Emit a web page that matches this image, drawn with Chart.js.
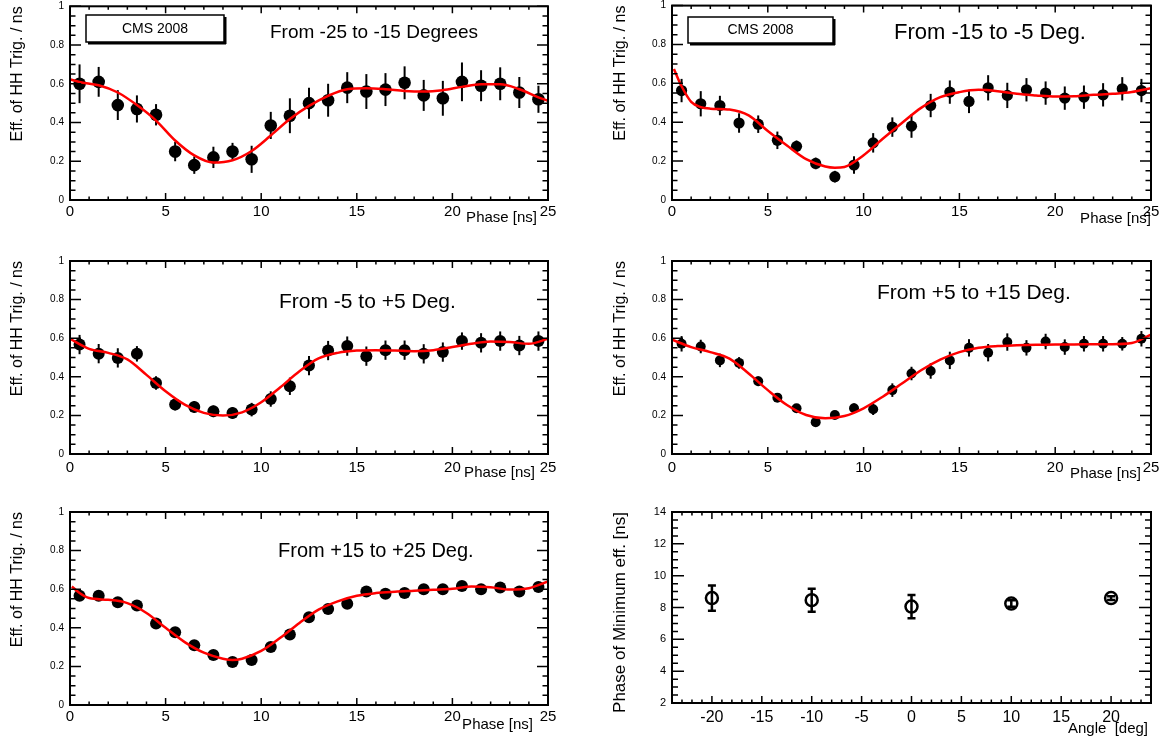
<!DOCTYPE html>
<html>
<head>
<meta charset="utf-8">
<script src="https://cdn.jsdelivr.net/npm/chart.js@4.4.1/dist/chart.umd.min.js"></script>
<style>
html,body{margin:0;padding:0;background:#fff;width:1163px;height:738px;overflow:hidden;position:relative}
canvas{position:absolute}
</style>
</head>
<body>
<canvas id="p1"></canvas>
<canvas id="p2"></canvas>
<canvas id="p3"></canvas>
<canvas id="p4"></canvas>
<canvas id="p5"></canvas>
<canvas id="p6"></canvas>
<script>
const FONT = "'Liberation Sans', Arial, Helvetica, sans-serif";

// ---- shared axes ----
const phase = [0.5,1.5,2.5,3.5,4.5,5.5,6.5,7.5,8.5,9.5,10.5,11.5,12.5,13.5,14.5,15.5,16.5,17.5,18.5,19.5,20.5,21.5,22.5,23.5,24.5];
const xTicksPhase = [0,5,10,15,20,25];
const xLabelsPhase = ['0','5','10','15','20','25'];
const yTicksEff = [0,0.2,0.4,0.6,0.8,1];
const yLabelsEff = ['0','0.2','0.4','0.6','0.8','1'];

// ---- From -25 to -15 Degrees ----
const effA = [0.60,0.61,0.49,0.47,0.44,0.25,0.18,0.22,0.25,0.21,0.385,0.435,0.50,0.515,0.58,0.56,0.57,0.605,0.54,0.525,0.61,0.59,0.60,0.555,0.52];
const errA = [0.10,0.077,0.077,0.07,0.055,0.05,0.045,0.055,0.045,0.07,0.07,0.09,0.08,0.085,0.08,0.09,0.085,0.085,0.08,0.09,0.10,0.08,0.085,0.08,0.07];
const fitXA = [0,0.5,1.5,2.5,3.5,4.5,5.5,6.5,7.5,8.5,9.5,10.5,11.5,12.5,13.5,14.5,15.5,16.5,17.5,18.5,19.5,20.5,21.5,22.5,23.5,24.5,25];
const fitYA = [0.623,0.609,0.592,0.555,0.49,0.41,0.307,0.23,0.193,0.205,0.253,0.333,0.418,0.486,0.538,0.572,0.577,0.572,0.563,0.56,0.567,0.584,0.597,0.597,0.572,0.53,0.512];

// ---- From -15 to -5 Deg. ----
const effB = [0.563,0.495,0.486,0.396,0.39,0.307,0.276,0.188,0.12,0.18,0.294,0.375,0.38,0.486,0.555,0.507,0.577,0.538,0.567,0.55,0.524,0.529,0.541,0.572,0.563];
const errB = [0.06,0.065,0.05,0.05,0.045,0.045,0.03,0.03,0.03,0.045,0.05,0.05,0.06,0.06,0.06,0.06,0.065,0.065,0.06,0.06,0.06,0.06,0.06,0.06,0.06];
const fitXB = [0.1,0.5,1,1.5,2,3,4,5,6,7,8,8.5,9,10,11,12,13,14,15,16,17,18,19,20,21,22,23,24,25];
const fitYB = [0.674,0.585,0.505,0.478,0.47,0.465,0.435,0.355,0.28,0.21,0.172,0.166,0.17,0.23,0.315,0.396,0.474,0.529,0.555,0.567,0.56,0.546,0.538,0.532,0.534,0.541,0.546,0.555,0.575];

// ---- From -5 to +5 Deg. ----
const effC = [0.567,0.52,0.498,0.519,0.368,0.256,0.244,0.221,0.213,0.23,0.285,0.351,0.458,0.536,0.559,0.507,0.538,0.538,0.519,0.528,0.585,0.576,0.585,0.562,0.585];
const errC = [0.05,0.05,0.05,0.04,0.035,0.03,0.03,0.03,0.03,0.035,0.04,0.045,0.05,0.05,0.05,0.05,0.05,0.05,0.05,0.05,0.045,0.05,0.05,0.05,0.05];
const fitXC = [0,1,2,3,4,5,6,7,8,9,10,11,12,13,14,15,16,17,18,19,20,21,22,23,24,25];
const fitYC = [0.597,0.545,0.524,0.49,0.41,0.325,0.256,0.213,0.199,0.216,0.268,0.346,0.429,0.495,0.524,0.536,0.538,0.536,0.533,0.538,0.554,0.571,0.583,0.58,0.571,0.597];

// ---- From +5 to +15 Deg. ----
const effD = [0.571,0.557,0.485,0.472,0.377,0.292,0.237,0.165,0.202,0.237,0.232,0.331,0.417,0.43,0.485,0.55,0.525,0.58,0.55,0.583,0.554,0.571,0.571,0.571,0.597];
const errD = [0.04,0.035,0.035,0.03,0.025,0.02,0.02,0.02,0.02,0.025,0.03,0.035,0.035,0.04,0.045,0.045,0.045,0.045,0.04,0.04,0.04,0.04,0.04,0.035,0.04];
const fitXD = [0,1,2,3,4,5,6,7,8,9,10,11,12,13,14,15,16,17,18,19,20,21,22,23,24,25];
const fitYD = [0.592,0.554,0.528,0.494,0.417,0.331,0.254,0.202,0.185,0.197,0.237,0.297,0.365,0.434,0.489,0.528,0.55,0.559,0.563,0.566,0.568,0.568,0.569,0.569,0.575,0.619];

// ---- From +15 to +25 Deg. ----
const effE = [0.566,0.566,0.532,0.515,0.422,0.377,0.31,0.259,0.223,0.233,0.30,0.365,0.455,0.497,0.525,0.588,0.576,0.58,0.60,0.60,0.617,0.60,0.609,0.588,0.611];
const errE = [0.02,0.018,0.018,0.018,0.018,0.018,0.018,0.018,0.018,0.018,0.018,0.018,0.018,0.018,0.018,0.018,0.018,0.018,0.018,0.018,0.018,0.018,0.018,0.018,0.02];
const fitXE = [0.1,0.5,1,2,3,4,5,6,7,8,8.5,9,10,11,12,13,14,15,16,17,18,19,20,21,22,23,24,25];
const fitYE = [0.614,0.58,0.554,0.545,0.528,0.477,0.40,0.326,0.271,0.24,0.233,0.24,0.28,0.348,0.425,0.494,0.537,0.566,0.58,0.587,0.592,0.597,0.602,0.614,0.61,0.598,0.605,0.64];

// ---- Phase of minimum vs angle ----
const angle = [-20,-10,0,10,20];
const phaseMin = [8.59,8.46,8.06,8.25,8.59];
const phaseMinErr = [0.79,0.72,0.73,0.2,0.12];
const xTicksAngle = [-20,-15,-10,-5,0,5,10,15,20];
const xLabelsAngle = ['-20','-15','-10','-5','0','5','10','15','20'];
const yTicksMin = [2,4,6,8,10,12,14];
const yLabelsMin = ['2','4','6','8','10','12','14'];

const effAxis = {xmin:0,xmax:25,xTicks:xTicksPhase,xLabels:xLabelsPhase,xMinor:1,ymin:0,ymax:1,yTicks:yTicksEff,yLabels:yLabelsEff,yMinor:0.05,
  xFont:15,yFont:10,yTitle:'Eff. of HH Trig. / ns',yTitleSize:16,xTitle:'Phase [ns]',xTitleSize:15,
  yMaj:11,yMin:5.5,xMaj:7,xMin:3.5,errW:2,cap:0,open:false,xPad:3};

const panels = [
  Object.assign({}, effAxis, {id:'p1',left:0,top:0,w:581,h:248,area:{l:70,t:5,r:548,b:200},
    xs:phase,ys:effA,err:errA,fx:fitXA,fy:fitYA,r:6.3,yTitlePad:8,xTitleRight:537,xTitleY:218,
    title:'From -25 to -15 Degrees',titleX:270,titleY:33,titleSize:19,cms:{x1:86,y1:15,x2:224,y2:42}}),
  Object.assign({}, effAxis, {id:'p2',left:581,top:0,w:582,h:248,area:{l:672,t:5,r:1151,b:200},
    xs:phase,ys:effB,err:errB,fx:fitXB,fy:fitYB,r:5.6,yTitlePad:30,xTitleRight:1151,xTitleY:219,
    title:'From -15 to -5 Deg.',titleX:894,titleY:33,titleSize:22,cms:{x1:688,y1:17,x2:833,y2:43}}),
  Object.assign({}, effAxis, {id:'p3',left:0,top:248,w:581,h:247,area:{l:70,t:261,r:548,b:454},
    xs:phase,ys:effC,err:errC,fx:fitXC,fy:fitYC,r:6,yTitlePad:8,xTitleRight:535,xTitleY:473,xPad:5,
    title:'From -5 to +5 Deg.',titleX:279,titleY:302,titleSize:21}),
  Object.assign({}, effAxis, {id:'p4',left:581,top:248,w:582,h:247,area:{l:672,t:261,r:1151,b:454},
    xs:phase,ys:effD,err:errD,fx:fitXD,fy:fitYD,r:5,yTitlePad:30,xTitleRight:1141,xTitleY:474,xPad:5,
    title:'From +5 to +15 Deg.',titleX:877,titleY:293,titleSize:21}),
  Object.assign({}, effAxis, {id:'p5',left:0,top:495,w:581,h:243,area:{l:70,t:512,r:548,b:705},
    xs:phase,ys:effE,err:errE,fx:fitXE,fy:fitYE,r:6,yTitlePad:8,xTitleRight:533,xTitleY:725,
    title:'From +15 to +25 Deg.',titleX:278,titleY:551,titleSize:20}),
  {id:'p6',left:581,top:495,w:582,h:243,area:{l:672,t:512,r:1151,b:703},
    xs:angle,ys:phaseMin,err:phaseMinErr,r:6,open:true,cap:4,errW:2.5,
    xmin:-24,xmax:24,xTicks:xTicksAngle,xLabels:xLabelsAngle,xMinor:1,
    ymin:2,ymax:14,yTicks:yTicksMin,yLabels:yLabelsMin,yMinor:0.5,
    xFont:16,yFont:11,yTitle:'Phase of Minimum eff. [ns]',yTitleSize:17,yTitlePad:29,
    xTitle:'Angle  [deg]',xTitleSize:15,xTitleRight:1148,xTitleY:729,xPad:5,
    yMaj:12,yMin:6,xMaj:7,xMin:3.5}
];

function decor(p) {
  const near = (v, arr) => arr.some(t => Math.abs(t - v) < 1e-6);
  return {
    id: 'decor_' + p.id,
    beforeDatasetsDraw(chart) {
      const ctx = chart.ctx, xs = chart.scales.x, ys = chart.scales.y;
      ctx.save();
      ctx.strokeStyle = '#000';
      ctx.lineWidth = p.errW;
      p.xs.forEach((xv, i) => {
        const px = xs.getPixelForValue(xv);
        const y1 = ys.getPixelForValue(p.ys[i] - p.err[i]);
        const y2 = ys.getPixelForValue(p.ys[i] + p.err[i]);
        ctx.beginPath(); ctx.moveTo(px, y1); ctx.lineTo(px, y2); ctx.stroke();
        if (p.cap) {
          ctx.beginPath();
          ctx.moveTo(px - p.cap, y1); ctx.lineTo(px + p.cap, y1);
          ctx.moveTo(px - p.cap, y2); ctx.lineTo(px + p.cap, y2);
          ctx.stroke();
        }
      });
      ctx.restore();
    },
    afterDraw(chart) {
      const ctx = chart.ctx, a = chart.chartArea, xs = chart.scales.x, ys = chart.scales.y;
      ctx.save();
      ctx.strokeStyle = '#000';
      ctx.lineWidth = 1.5;
      ctx.beginPath();
      const nx = Math.round((p.xmax - p.xmin) / p.xMinor);
      for (let k = 0; k <= nx; k++) {
        const v = p.xmin + k * p.xMinor;
        const px = xs.getPixelForValue(v);
        const len = near(v, p.xTicks) ? p.xMaj : p.xMin;
        ctx.moveTo(px, a.bottom); ctx.lineTo(px, a.bottom - len);
        ctx.moveTo(px, a.top); ctx.lineTo(px, a.top + len);
      }
      const ny = Math.round((p.ymax - p.ymin) / p.yMinor);
      for (let k = 0; k <= ny; k++) {
        const v = p.ymin + k * p.yMinor;
        const py = ys.getPixelForValue(v);
        const len = near(v, p.yTicks) ? p.yMaj : p.yMin;
        ctx.moveTo(a.left, py); ctx.lineTo(a.left + len, py);
        ctx.moveTo(a.right, py); ctx.lineTo(a.right - len, py);
      }
      ctx.stroke();
      ctx.lineWidth = 2;
      ctx.strokeRect(a.left, a.top, a.right - a.left, a.bottom - a.top);

      ctx.fillStyle = '#000';
      ctx.textBaseline = 'middle';
      // x-axis title
      ctx.font = p.xTitleSize + 'px ' + FONT;
      ctx.textAlign = 'right';
      ctx.fillText(p.xTitle, p.xTitleRight - p.left, p.xTitleY - p.top);
      // panel title
      if (p.title) {
        ctx.font = p.titleSize + 'px ' + FONT;
        ctx.textAlign = 'left';
        ctx.fillText(p.title, p.titleX - p.left, p.titleY - p.top);
      }
      // CMS box
      if (p.cms) {
        const x1 = p.cms.x1 - p.left, y1 = p.cms.y1 - p.top, x2 = p.cms.x2 - p.left, y2 = p.cms.y2 - p.top;
        ctx.fillStyle = '#fff';
        ctx.fillRect(x1, y1, x2 - x1, y2 - y1);
        ctx.lineWidth = 1.5;
        ctx.strokeRect(x1, y1, x2 - x1, y2 - y1);
        ctx.fillStyle = '#000';
        ctx.fillRect(x2, y1 + 2, 2.5, y2 - y1);
        ctx.fillRect(x1 + 2, y2, x2 - x1, 2.5);
        ctx.font = '14px ' + FONT;
        ctx.textAlign = 'center';
        ctx.fillText('CMS 2008', (x1 + x2) / 2, (y1 + y2) / 2 + 0.5);
      }
      ctx.restore();
    }
  };
}

panels.forEach(p => {
  const cv = document.getElementById(p.id);
  cv.width = p.w; cv.height = p.h;
  cv.style.left = p.left + 'px'; cv.style.top = p.top + 'px';
  cv.style.width = p.w + 'px'; cv.style.height = p.h + 'px';
  const yW = p.area.l - p.left;
  const xH = p.top + p.h - p.area.b;
  const datasets = [];
  if (p.fx) {
    datasets.push({
      type: 'line', data: p.fx.map((x, i) => ({x: x, y: p.fy[i]})),
      borderColor: '#ff0000', borderWidth: 2.5, pointRadius: 0, fill: false,
      cubicInterpolationMode: 'monotone', order: 1
    });
  }
  datasets.push({
    type: 'scatter', data: p.xs.map((x, i) => ({x: x, y: p.ys[i]})),
    pointRadius: p.r, pointStyle: 'circle',
    pointBackgroundColor: p.open ? 'rgba(0,0,0,0)' : '#000',
    pointBorderColor: '#000', pointBorderWidth: p.open ? 2.5 : 0, order: 2
  });
  new Chart(cv, {
    type: 'scatter',
    data: {datasets: datasets},
    options: {
      responsive: false, animation: false, devicePixelRatio: 1, events: [],
      layout: {padding: {left: 0, top: p.area.t - p.top, right: p.left + p.w - p.area.r, bottom: 0}},
      plugins: {legend: {display: false}, tooltip: {enabled: false}},
      scales: {
        x: {
          type: 'linear', min: p.xmin, max: p.xmax,
          afterBuildTicks: s => { s.ticks = p.xTicks.map(v => ({value: v})); },
          afterFit: s => { s.height = xH; s.paddingLeft = 0; s.paddingRight = 0; },
          grid: {display: false, drawTicks: false}, border: {display: false},
          ticks: {color: '#000', font: {family: FONT, size: p.xFont}, padding: p.xPad, maxRotation: 0, autoSkip: false,
                  callback: (v, i) => p.xLabels[i]}
        },
        y: {
          type: 'linear', min: p.ymin, max: p.ymax,
          afterBuildTicks: s => { s.ticks = p.yTicks.map(v => ({value: v})); },
          afterFit: s => { s.width = yW; s.paddingTop = 0; s.paddingBottom = 0; },
          grid: {display: false, drawTicks: false}, border: {display: false},
          ticks: {color: '#000', font: {family: FONT, size: p.yFont}, padding: 6, autoSkip: false,
                  callback: (v, i) => p.yLabels[i]},
          title: {display: true, text: p.yTitle, align: 'end', color: '#000',
                  font: {family: FONT, size: p.yTitleSize}, padding: {top: p.yTitlePad, bottom: 0}}
        }
      }
    },
    plugins: [decor(p)]
  });
});
</script>
</body>
</html>
